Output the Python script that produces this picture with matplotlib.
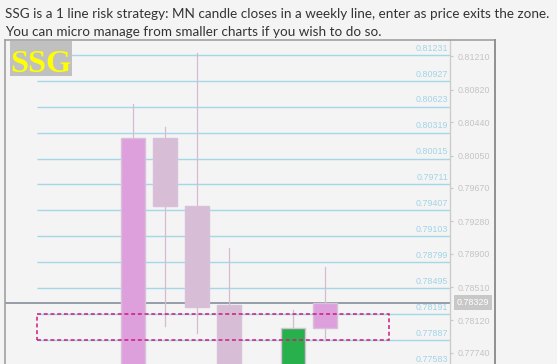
import matplotlib
matplotlib.use("Agg")
import matplotlib.pyplot as plt
from matplotlib.lines import Line2D
from matplotlib.patches import Rectangle

# ---- data ----
header_lines = [
    "SSG is a 1 line risk strategy: MN candle closes in a weekly line, enter as price exits the zone.",
    "You can micro manage from smaller charts if you wish to do so.",
]
logo_text = "SSG"
candle_pos = [0, 1, 2, 3, 5, 6]
opens  = [0.7700, 0.80251, 0.79463, 0.78300, 0.7740, 0.78028]
highs  = [0.80653, 0.80384, 0.81248, 0.78967, 0.78242, 0.78745]
lows   = [0.7690, 0.78058, 0.77976, 0.7710, 0.7730, 0.77891]
closes = [0.80251, 0.79463, 0.78277, 0.7720, 0.78028, 0.78329]
highlight_pos = 5
level_lines = [0.81231, 0.80927, 0.80623, 0.80319, 0.80015, 0.79711, 0.79407,
               0.79103, 0.78799, 0.78495, 0.78191, 0.77887, 0.77583]
axis_ticks = [0.81210, 0.80820, 0.80440, 0.80050, 0.79670, 0.79280, 0.78900,
              0.78510, 0.78120, 0.77740]
current_price = 0.78329
zone = (0.77887, 0.78191)
zone_x = (-3, 8)
lines_start = -3

W, H = 557, 364
BG = "#f4f4f4"
fig = plt.figure(figsize=(W / 100, H / 100), dpi=100, facecolor=BG)

def fx(px):
    return px / W

def fy(py):
    return 1 - py / H

# chart axes: x 5..450 px, y 40..364 px
ax = fig.add_axes([fx(5), 0, fx(450) - fx(5), (H - 40) / H])
ax.set_facecolor(BG)
ax.set_xlim(-4, (450 - 133) / 32)
ax.set_ylim(0.77610, 0.81402)

for s in ["top", "bottom"]:
    ax.spines[s].set_visible(False)
ax.spines["left"].set_color("#a0a0a0")
ax.spines["left"].set_linewidth(1.2)
ax.spines["right"].set_color("#cccccc")
ax.spines["right"].set_linewidth(1.0)
ax.set_xticks([])
ax.yaxis.tick_right()
ax.set_yticks(axis_ticks)
ax.set_yticklabels([f"{v:.5f}" for v in axis_ticks])
ax.tick_params(axis="y", right=True, left=False, length=2.2, width=0.8,
               color="#c8c8c8", labelcolor="#c4c4c4", labelsize=6.4, pad=3)
for lab in ax.get_yticklabels():
    lab.set_fontfamily("Liberation Sans")

line_col = "#a3d8e8"
for v in level_lines:
    ax.plot([lines_start, ax.get_xlim()[1]], [v, v], color=line_col, lw=1.0,
            zorder=1, solid_capstyle="butt")
    ax.annotate(f"{v:.5f}", xy=(1, v), xycoords=("axes fraction", "data"),
                xytext=(-1.5, 1.5), textcoords="offset points", ha="right",
                va="bottom", fontsize=6.4, color="#a2d4e6",
                family="Liberation Sans", annotation_clip=False)

# current price line
ax.axhline(current_price, color="#7c8492", lw=1.1, zorder=2)
ax.annotate(f"{current_price:.5f}", xy=(1, current_price),
            xycoords=("axes fraction", "data"), xytext=(5, 0),
            textcoords="offset points", ha="left", va="center", fontsize=6.4,
            color="white", family="Liberation Sans", annotation_clip=False,
            bbox=dict(boxstyle="square,pad=0.3", fc="#c8c8c8", ec="none"))

# candles
bw = 0.75
for x, o, h, l, c in zip(candle_pos, opens, highs, lows, closes):
    if x == highlight_pos:
        body = "#28b04c"
    elif c >= o:
        body = "#dda0dd"
    else:
        body = "#d7bdd6"
    ax.plot([x, x], [l, h], color="#d5bad4", lw=0.9, zorder=3)
    lo, hi = min(o, c), max(o, c)
    ax.add_patch(Rectangle((x - bw / 2, lo), bw, hi - lo, facecolor=body,
                           edgecolor="#d8c0d8", lw=1.0, zorder=4))

# zone rectangle
ax.add_patch(Rectangle((zone_x[0], zone[0]), zone_x[1] - zone_x[0],
                       zone[1] - zone[0], fill=False, edgecolor="#d0187f",
                       lw=1.1, linestyle=(0, (2.6, 1.8)), zorder=5))

# frame top / right border
fig.add_artist(Line2D([fx(5), fx(494.5)], [fy(39.8), fy(39.8)],
                      color="#a0a0a0", lw=1.2))
fig.add_artist(Line2D([fx(494.5), fx(494.5)], [fy(39.8), 0],
                      color="#909090", lw=1.4))

# logo
fig.add_artist(Rectangle((fx(10), fy(76)), fx(72) - fx(10), fy(41) - fy(76),
                         transform=fig.transFigure, facecolor="#c0c0c0",
                         edgecolor="none", zorder=10))
logo = fig.text(fx(41), fy(72), logo_text, ha="center", va="baseline",
                fontsize=27, fontweight="bold",
                family=["Liberation Serif", "DejaVu Serif"],
                color="#ffff00", zorder=11)

# header text, sized to match the reference width
t1 = fig.text(fx(5), fy(17.8), header_lines[0], ha="left", va="baseline",
              fontsize=10, color="#333333", family="Lato")
t2 = fig.text(fx(5), fy(35.5), header_lines[1], ha="left", va="baseline",
              fontsize=10, color="#333333", family="Lato")
fig.canvas.draw()
w = t1.get_window_extent().width
fs = 10 * 540 / w
t1.set_fontsize(fs)
t2.set_fontsize(fs)
lw_ = logo.get_window_extent().width
if lw_ > 61:
    logo.set_fontsize(27 * 61 / lw_)

fig.savefig("out.png", dpi=100, facecolor=BG)
